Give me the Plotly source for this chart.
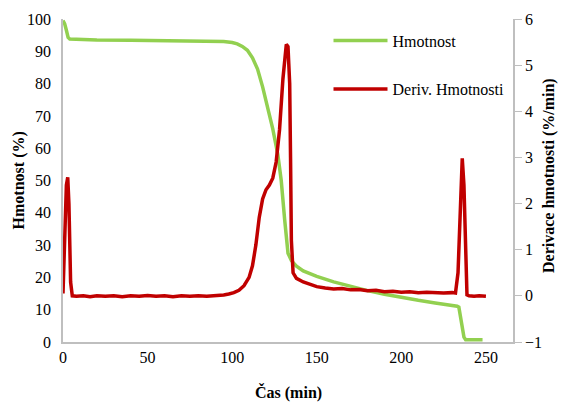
import plotly.graph_objects as go

# Hmotnost (%) vs time
t_mass = [0, 1, 2, 3, 4, 10, 20, 40, 60, 80, 90, 95, 100, 103, 106, 109, 112, 115,
          118, 121, 124, 127, 129, 131, 133, 135, 138, 142, 150, 160, 170, 180, 190,
          200, 210, 220, 230, 233, 234, 235, 236, 237, 238, 243, 248]
mass = [99.5, 98.5, 96.5, 94.3, 93.8, 93.6, 93.5, 93.4, 93.3, 93.2, 93.1, 93.0, 92.7,
        92.3, 91.5, 90.3, 88.0, 84.5, 79.0, 73.0, 66.0, 58.0, 50.0, 38.0, 27.5, 25.2,
        23.5, 22.0, 20.3, 18.6, 17.2, 15.9, 14.8, 13.8, 12.9, 12.1, 11.4, 11.1, 10.8,
        8.0, 4.5, 1.5, 0.7, 0.7, 0.7]

# Deriv. Hmotnosti (%/min) vs time
t_deriv = [0, 1, 2, 2.8, 3.5, 4.5, 5.5, 8, 12, 16, 20, 25, 30, 35, 40, 45, 50, 55, 60,
           65, 70, 75, 80, 85, 90, 95, 98, 101, 104, 107, 110, 112, 114, 116, 118, 120,
           122, 124, 126, 128, 130, 131, 132, 133, 134, 134.5, 135, 136, 138, 142, 146,
           150, 155, 160, 165, 170, 175, 180, 185, 190, 195, 200, 205, 210, 215, 220,
           225, 230, 232, 233.5, 235, 236, 237, 238, 238.8, 240, 243, 246, 250]
deriv = [0.05, 1.2, 2.4, 2.57, 2.0, 0.3, 0.0, -0.01, 0.0, -0.02, 0.0, -0.01, 0.0, -0.02,
         0.0, -0.01, 0.01, -0.01, 0.0, -0.02, 0.0, -0.01, 0.0, -0.01, 0.0, 0.02, 0.04,
         0.07, 0.12, 0.22, 0.4, 0.65, 1.1, 1.7, 2.1, 2.3, 2.4, 2.55, 2.9, 3.6, 4.7, 5.2,
         5.45, 5.4, 4.6, 3.0, 1.2, 0.5, 0.38, 0.3, 0.24, 0.2, 0.17, 0.15, 0.16, 0.13,
         0.14, 0.11, 0.12, 0.09, 0.1, 0.08, 0.09, 0.07, 0.08, 0.07, 0.06, 0.07, 0.06,
         0.5, 2.3, 2.98, 2.4, 0.6, 0.02, 0.0, -0.01, 0.0, -0.01]

x_ticks = [0, 50, 100, 150, 200, 250]
y1_ticks = [0, 10, 20, 30, 40, 50, 60, 70, 80, 90, 100]
y2_ticks = [-1, 0, 1, 2, 3, 4, 5, 6]

x_title = "Čas (min)"
y1_title = "Hmotnost (%)"
y2_title = "Derivace hmotnosti (%/min)"

FONT = "Times New Roman, Liberation Serif, serif"
AX = "#BFBFBF"
CLEAR = "rgba(0,0,0,0)"

fig = go.Figure()
fig.add_trace(go.Scatter(x=t_mass, y=mass, name="Hmotnost", mode="lines",
                         line=dict(color="#92D050", width=3.5), legend="legend"))
fig.add_trace(go.Scatter(x=t_deriv, y=deriv, name="Deriv. Hmotnosti", mode="lines",
                         line=dict(color="#C00000", width=3.5), yaxis="y2",
                         legend="legend2"))

fig.update_layout(
    width=566, height=402,
    margin=dict(l=63, r=53, t=19, b=60),
    paper_bgcolor="white", plot_bgcolor="white",
    font=dict(family=FONT, size=16, color="#000000"),
    xaxis=dict(range=[0, 266], tickvals=x_ticks, showgrid=False, zeroline=False,
               showline=True, linecolor=AX, linewidth=1.5, ticks="", automargin=False,
               tickfont=dict(family=FONT, size=16)),
    yaxis=dict(range=[0, 100], tickvals=y1_ticks, showgrid=False, zeroline=False,
               showline=True, linecolor=AX, linewidth=1.5, ticks="outside",
               tickcolor=CLEAR, ticklen=7, automargin=False,
               tickfont=dict(family=FONT, size=16)),
    yaxis2=dict(range=[-1, 6], tickvals=y2_ticks, overlaying="y", side="right",
                showgrid=False, zeroline=False, showline=True, linecolor=AX,
                linewidth=1.5, ticks="outside", tickcolor=AX, ticklen=7, automargin=False,
                tickfont=dict(family=FONT, size=16)),
    legend=dict(x=0.59, y=0.933, xanchor="left", yanchor="middle",
                bgcolor=CLEAR, itemwidth=54, font=dict(family=FONT, size=16)),
    legend2=dict(x=0.59, y=0.783, xanchor="left", yanchor="middle",
                 bgcolor=CLEAR, itemwidth=54, font=dict(family=FONT, size=16)),
    showlegend=True,
    annotations=[
        dict(text="<b>" + x_title + "</b>", xref="paper", yref="paper", x=0.5,
             y=-0.155, xanchor="center", yanchor="middle", showarrow=False,
             font=dict(family=FONT, size=16)),
        dict(text="<b>" + y1_title + "</b>", xref="paper", yref="paper", x=-0.098,
             y=0.5, xanchor="center", yanchor="middle", textangle=-90,
             showarrow=False, font=dict(family=FONT, size=16)),
        dict(text="<b>" + y2_title + "</b>", xref="paper", yref="paper", x=1.08,
             y=0.514, xanchor="center", yanchor="middle", textangle=-90,
             showarrow=False, font=dict(family=FONT, size=16)),
    ],
)

fig.write_html("out.html", config={"displayModeBar": False},
               post_script="document.body.style.margin='0';")
